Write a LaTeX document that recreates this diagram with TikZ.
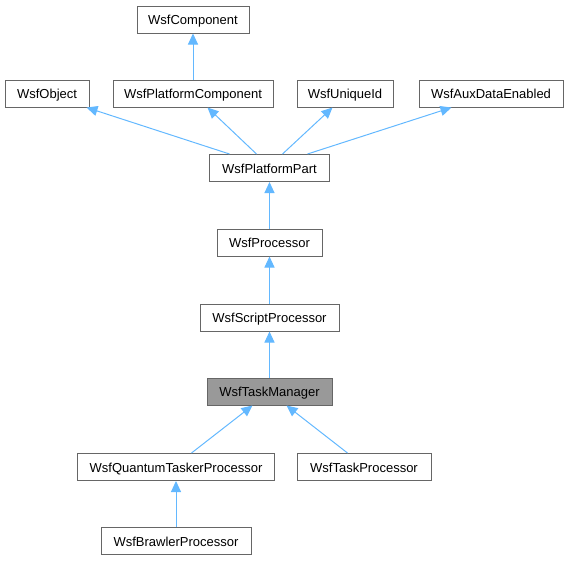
\documentclass[tikz,border=0pt]{standalone}
\usepackage{fontspec}
\setmainfont{Liberation Sans}
\usetikzlibrary{arrows.meta}
\definecolor{edgeblue}{HTML}{63B8FF}
\definecolor{boxgray}{HTML}{666666}
\definecolor{curfill}{HTML}{999999}
\tikzset{
    cls/.style={draw=boxgray, fill=white, line width=1pt, minimum height=27pt,
        inner sep=0pt, text height=13pt, text depth=2.3pt,
        font=\fontsize{13}{15}\selectfont},
    inh/.style={draw=edgeblue, line width=1pt, -{Triangle[length=11pt,width=10pt]}}
}
\begin{document}
\begin{tikzpicture}[x=1pt, y=-1pt]
    \useasboundingbox (0,0) rectangle (568,560);

    % Base classes
    \node[cls, minimum width=112pt] (comp) at (193,19.5) {WsfComponent};
    \node[cls, minimum width=84pt] (obj) at (47,93.5) {WsfObject};
    \node[cls, minimum width=160pt] (pcomp) at (193,93.5) {WsfPlatformComponent};
    \node[cls, minimum width=96pt] (uid) at (345,93.5) {WsfUniqueId};
    \node[cls, minimum width=144pt] (aux) at (491,93.5) {WsfAuxDataEnabled};

    % Middle chain
    \node[cls, minimum width=120pt] (part) at (269.5,168) {WsfPlatformPart};
    \node[cls, minimum width=105pt] (proc) at (269.5,242.5) {WsfProcessor};
    \node[cls, minimum width=139pt] (script) at (269.5,317.5) {WsfScriptProcessor};
    \node[cls, minimum width=125pt, fill=curfill] (tm) at (269.5,391.5) {WsfTaskManager};

    % Derived classes
    \node[cls, minimum width=197pt] (qt) at (176,467) {WsfQuantumTaskerProcessor};
    \node[cls, minimum width=134pt] (tp) at (364,467) {WsfTaskProcessor};
    \node[cls, minimum width=150pt] (br) at (176,541) {WsfBrawlerProcessor};

    % Inheritance edges
    \draw[inh] (pcomp.north) -- (comp.south);
    \draw[inh] ([xshift=20.5pt]part.north west) -- ([xshift=82pt]obj.south west);
    \draw[inh] ([xshift=47.5pt]part.north west) -- ([xshift=95pt]pcomp.south west);
    \draw[inh] ([xshift=73.5pt]part.north west) -- ([xshift=36pt]uid.south west);
    \draw[inh] ([xshift=98.5pt]part.north west) -- ([xshift=33pt]aux.south west);
    \draw[inh] (proc.north) -- (part.south);
    \draw[inh] (script.north) -- (proc.south);
    \draw[inh] (tm.north) -- (script.south);
    \draw[inh] ([xshift=114.5pt]qt.north west) -- ([xshift=46pt]tm.south west);
    \draw[inh] ([xshift=51pt]tp.north west) -- ([xshift=80pt]tm.south west);
    \draw[inh] (br.north) -- (qt.south);

\end{tikzpicture}
\end{document}
